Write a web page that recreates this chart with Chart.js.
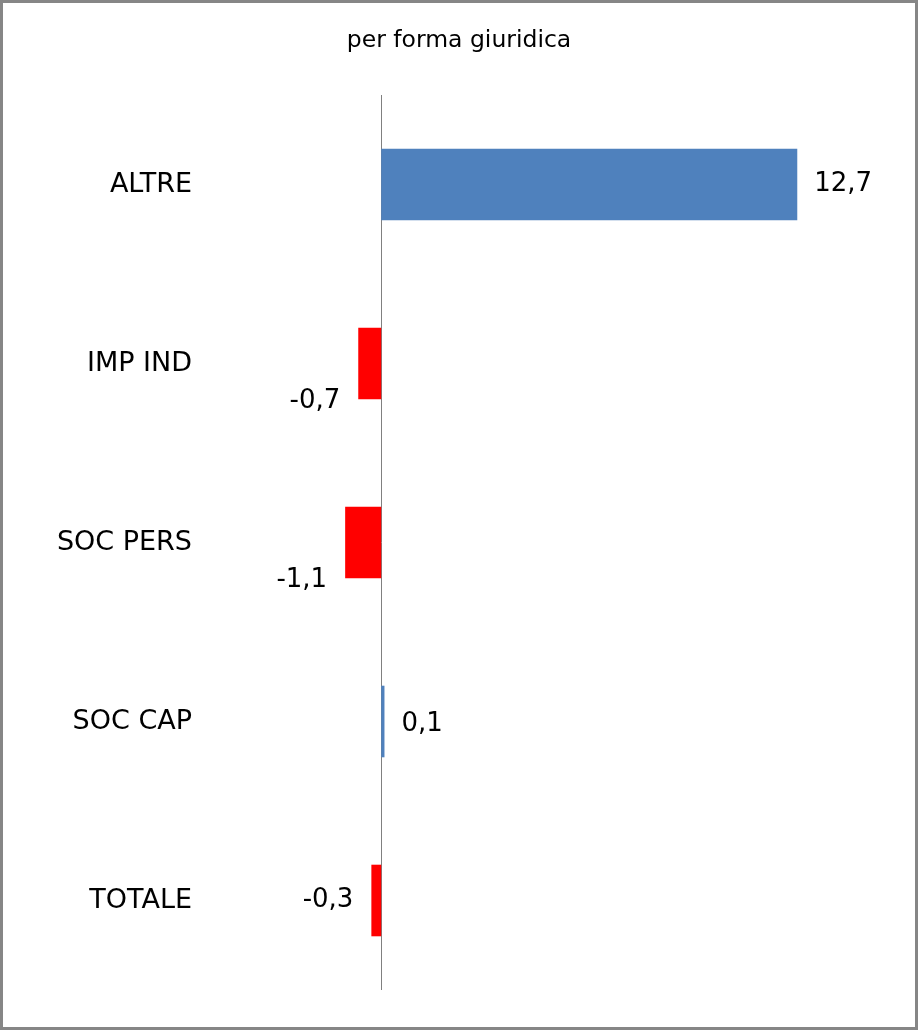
<!DOCTYPE html>
<html>
<head>
<meta charset="utf-8">
<script src="https://cdn.jsdelivr.net/npm/chart.js@4/dist/chart.umd.min.js"></script>
<style>
    html, body { margin: 0; padding: 0; background: #fff; }
    #wrap { width: 918px; height: 1030px; position: relative; }
</style>
</head>
<body>
<div id="wrap"><canvas id="chart"></canvas></div>
<script>
const categories = ['ALTRE', 'IMP IND', 'SOC PERS', 'SOC CAP', 'TOTALE'];
const values = [12.7, -0.7, -1.1, 0.1, -0.3];
const chartTitle = 'per forma giuridica';

const BLUE = '#4F81BD';
const RED = '#FF0000';
const FONT = '"DejaVu Sans", Verdana, sans-serif';

// cornice grigia e titolo centrato sulla pagina
const frame = {
    id: 'frame',
    beforeDraw(chart) {
        const ctx = chart.ctx;
        ctx.save();
        ctx.fillStyle = '#fff';
        ctx.fillRect(0, 0, chart.width, chart.height);
        ctx.strokeStyle = '#868686';
        ctx.lineWidth = 3;
        ctx.strokeRect(1.5, 1.5, chart.width - 3, chart.height - 3);
        ctx.fillStyle = '#000';
        ctx.font = '23.5px ' + FONT;
        ctx.textAlign = 'center';
        ctx.textBaseline = 'alphabetic';
        ctx.fillText(chartTitle, chart.width / 2, 47);
        ctx.restore();
    }
};

// linea verticale sullo zero
const zeroLine = {
    id: 'zeroLine',
    beforeDatasetsDraw(chart) {
        const { ctx, chartArea, scales } = chart;
        const x = Math.round(scales.x.getPixelForValue(0)) + 0.5;
        ctx.save();
        ctx.strokeStyle = '#808080';
        ctx.lineWidth = 1;
        ctx.beginPath();
        ctx.moveTo(x, chartArea.top);
        ctx.lineTo(x, chartArea.bottom);
        ctx.stroke();
        ctx.restore();
    }
};

// etichette dei valori
const valueLabels = {
    id: 'valueLabels',
    afterDatasetsDraw(chart, args, opts) {
        const ctx = chart.ctx;
        const meta = chart.getDatasetMeta(0);
        ctx.save();
        ctx.font = '26px ' + FONT;
        ctx.fillStyle = '#000';
        ctx.textBaseline = 'middle';
        meta.data.forEach((bar, i) => {
            const v = values[i];
            const txt = v.toFixed(1).replace('.', ',');
            const dy = opts.shift[i] || 0;
            if (v >= 0) {
                ctx.textAlign = 'left';
                ctx.fillText(txt, bar.x + 17, bar.y + dy);
            } else {
                ctx.textAlign = 'right';
                ctx.fillText(txt, bar.x - 18, bar.y + dy);
            }
        });
        ctx.restore();
    }
};

new Chart(document.getElementById('chart'), {
    type: 'bar',
    data: {
        labels: categories,
        datasets: [{
            data: values,
            backgroundColor: values.map(v => v >= 0 ? BLUE : RED),
            borderWidth: 0,
            categoryPercentage: 0.8,
            barPercentage: 0.5
        }]
    },
    options: {
        indexAxis: 'y',
        responsive: true,
        maintainAspectRatio: false,
        animation: false,
        layout: { padding: { left: 0, right: 29, top: 95, bottom: 40 } },
        plugins: {
            legend: { display: false },
            tooltip: { enabled: false },
            title: { display: false },
            valueLabels: { shift: [0, 38, 38, 3, 0] }
        },
        scales: {
            x: {
                display: false,
                min: -5.5,
                max: 15.5
            },
            y: {
                grid: { display: false, drawTicks: false },
                border: { display: false },
                ticks: {
                    color: '#000',
                    padding: 9,
                    font: { family: FONT, size: 27 }
                },
                afterFit(scale) { scale.width = 201; }
            }
        }
    },
    plugins: [frame, zeroLine, valueLabels]
});
</script>
</body>
</html>
